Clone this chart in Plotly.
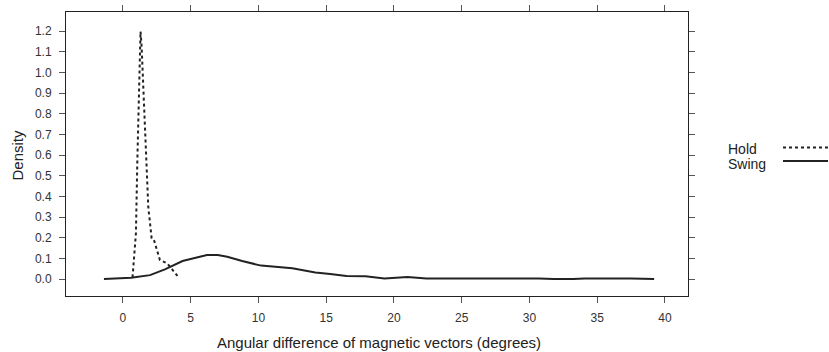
import plotly.graph_objects as go

swing_x = [-1.4, 0.6, 2.0, 3.1, 4.4, 5.4, 6.2, 7.0, 7.7, 8.8, 10.2, 12.5, 14.2, 15.3, 16.5, 17.9, 19.3, 21.0, 22.4, 30.7, 31.8, 33.2, 34.1, 37.5, 38.3, 39.2]
swing_y = [0.0, 0.006, 0.019, 0.047, 0.087, 0.103, 0.116, 0.116, 0.108, 0.087, 0.065, 0.052, 0.032, 0.024, 0.015, 0.013, 0.003, 0.01, 0.003, 0.003, 0.0, 0.0, 0.003, 0.003, 0.0, 0.0]

hold_x = [0.71, 0.96, 1.06, 1.18, 1.25, 1.3, 1.38, 1.5, 1.7, 1.87, 2.12, 2.29, 2.73, 3.27, 4.08]
hold_y = [0.008, 0.221, 0.56, 0.963, 1.075, 1.197, 1.125, 0.93, 0.624, 0.35, 0.197, 0.189, 0.092, 0.076, 0.011]

x_ticks = [0, 5, 10, 15, 20, 25, 30, 35, 40]
y_ticks = [0.0, 0.1, 0.2, 0.3, 0.4, 0.5, 0.6, 0.7, 0.8, 0.9, 1.0, 1.1, 1.2]

font = "Liberation Sans, Arial, sans-serif"
tickcol = "#555555"

L, R, T, B = 66, 688, 12, 296


def px(x):
    return (x - L) / (R - L)


def py(y):
    return (B - y) / (B - T)


fig = go.Figure()
fig.add_trace(go.Scatter(x=hold_x, y=hold_y, mode="lines", name="Hold",
                         line=dict(color="#222222", width=2, dash="3px,3px")))
fig.add_trace(go.Scatter(x=swing_x, y=swing_y, mode="lines", name="Swing",
                         line=dict(color="#222222", width=2)))

fig.update_layout(
    width=829, height=352,
    margin=dict(l=L, r=829 - R, t=T, b=352 - B),
    paper_bgcolor="white", plot_bgcolor="white",
    showlegend=False,
    font=dict(family=font, color="#222222"),
)
fig.update_xaxes(range=[-4.2, 41.7], tickvals=x_ticks, ticktext=[str(v) for v in x_ticks],
                 ticks="outside", ticklen=6, tickcolor=tickcol, tickwidth=1,
                 showline=True, linecolor="#222222", linewidth=1, mirror="ticks",
                 showgrid=False, zeroline=False, automargin=False,
                 tickfont=dict(size=12, color="#333333"), ticklabelstandoff=5)
fig.update_yaxes(range=[-0.082, 1.292], tickvals=y_ticks, ticktext=[f"{v:.1f}" for v in y_ticks],
                 ticks="outside", ticklen=6, tickcolor=tickcol, tickwidth=1,
                 showline=True, linecolor="#222222", linewidth=1, mirror="ticks",
                 showgrid=False, zeroline=False, automargin=False,
                 tickfont=dict(size=12, color="#333333"), ticklabelstandoff=5)

# axis titles
fig.add_annotation(x=px(379), y=py(342.5), xref="paper", yref="paper",
                   text="Angular difference of magnetic vectors (degrees)", showarrow=False,
                   xanchor="center", yanchor="middle", font=dict(size=15, family=font, color="#222222"))
fig.add_annotation(x=px(16.5), y=py(155), xref="paper", yref="paper",
                   text="Density", showarrow=False, textangle=-90,
                   xanchor="center", yanchor="middle", font=dict(size=15, family=font, color="#222222"))

# legend (text left, key line right)
for label, yy in [("Hold", 149), ("Swing", 163.5)]:
    fig.add_annotation(x=px(726), y=py(yy), xref="paper", yref="paper",
                       text=label, showarrow=False, xanchor="left", yanchor="middle",
                       font=dict(size=14, family=font, color="#222222"))
fig.add_shape(type="line", xref="paper", yref="paper",
              x0=px(783), x1=px(828), y0=py(147.5), y1=py(147.5),
              line=dict(color="#222222", width=2, dash="3px,3px"))
fig.add_shape(type="line", xref="paper", yref="paper",
              x0=px(783), x1=px(828), y0=py(161), y1=py(161),
              line=dict(color="#222222", width=2))

fig.write_html("out.html")
